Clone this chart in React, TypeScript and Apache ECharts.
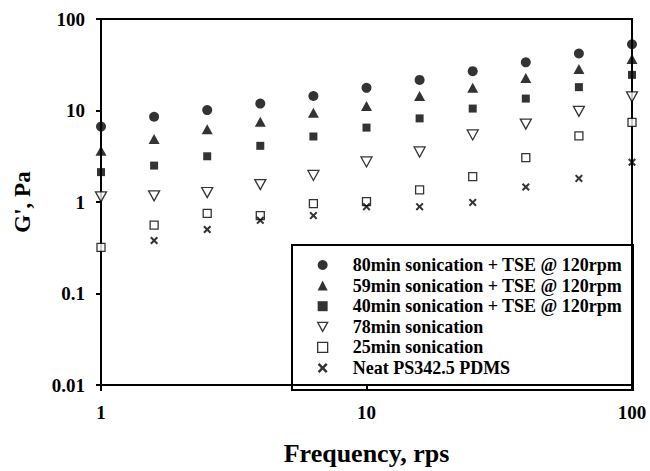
import React, { useEffect, useRef } from "react";
import * as echarts from "echarts";

// Oscillation frequency, rps
const frequency = [1, 1.585, 2.512, 3.981, 6.31, 10, 15.85, 25.12, 39.81, 63.1, 100];

// Storage modulus G', Pa
const s80TSE = [6.67, 8.55, 10.1, 11.9, 14.4, 17.7, 21.6, 26.9, 33.6, 42, 53];
const s59TSE = [3.63, 4.89, 6.23, 7.55, 9.44, 11.2, 14.4, 17.7, 22.6, 28.5, 36.5];
const s40TSE = [2.12, 2.5, 3.16, 4.11, 5.2, 6.5, 8.2, 10.5, 13.5, 18, 24.5];
const s78 = [1.14, 1.17, 1.27, 1.55, 1.95, 2.74, 3.52, 5.4, 7.1, 9.8, 14.1];
const s25 = [0.32, 0.56, 0.75, 0.71, 0.96, 1.01, 1.36, 1.89, 3.05, 5.27, 7.4];
const neat = [null, 0.38, 0.5, 0.63, 0.71, 0.89, 0.89, 0.99, 1.46, 1.81, 2.72];

const seriesNames = [
  "80min sonication + TSE @ 120rpm",
  "59min sonication + TSE @ 120rpm",
  "40min sonication + TSE @ 120rpm",
  "78min sonication",
  "25min sonication",
  "Neat PS342.5 PDMS",
];

const xTickLabels = ["1", "10", "100"];
const yTickLabels = ["0.01", "0.1", "1", "10", "100"];

const FONT = "'Liberation Serif', 'Times New Roman', serif";
const NABLA = "path://M0,0L10,0L5,9Z";
const CROSS =
  "path://M0,1.8L1.8,0L5,3.2L8.2,0L10,1.8L6.8,5L10,8.2L8.2,10L5,6.8L1.8,10L0,8.2L3.2,5Z";

const solid = { color: "#000", borderWidth: 0 };
const hollow = { color: "#fff", borderColor: "#000", borderWidth: 1.3 };

const styles = [
  { symbol: "circle", size: 10, item: solid },
  { symbol: "triangle", size: [11, 10], item: solid },
  { symbol: "rect", size: 8, item: solid },
  { symbol: NABLA, size: [11, 10], item: hollow },
  { symbol: "rect", size: 8, item: hollow },
  { symbol: CROSS, size: 8, item: solid },
];

const values = [s80TSE, s59TSE, s40TSE, s78, s25, neat];

function pickLabel(labels: string[], v: number) {
  const hit = labels.find((l) => Math.abs(Number(l) - v) < v * 1e-6);
  return hit ?? "";
}

export default function App() {
  const ref = useRef<HTMLDivElement>(null);

  useEffect(() => {
    document.body.style.margin = "0";
    if (!ref.current) return;
    const chart = echarts.init(ref.current, undefined, { renderer: "svg" });

    const series = values.map((vals, i) => ({
      name: seriesNames[i],
      type: "scatter",
      symbol: styles[i].symbol,
      symbolSize: styles[i].size,
      itemStyle: styles[i].item,
      data: frequency
        .map((f, j) => [f, vals[j]])
        .filter((p) => p[1] !== null),
    }));

    chart.setOption({
      animation: false,
      backgroundColor: "#fff",
      textStyle: { fontFamily: FONT },
      grid: {
        left: 101,
        right: 18,
        top: 19,
        bottom: 82,
        show: true,
        borderColor: "#000",
        borderWidth: 2,
      },
      xAxis: {
        type: "log",
        logBase: 10,
        min: 1,
        max: 100,
        name: "Frequency, rps",
        nameLocation: "middle",
        nameGap: 55,
        nameTextStyle: { fontFamily: FONT, fontWeight: "bold", fontSize: 26, color: "#000" },
        axisLine: { show: true, lineStyle: { color: "#000", width: 2 } },
        axisTick: { show: true, inside: false, length: 6, lineStyle: { color: "#000", width: 2 } },
        minorTick: { show: false },
        splitLine: { show: false },
        axisLabel: {
          margin: 18,
          fontFamily: FONT,
          fontWeight: "bold",
          fontSize: 19,
          color: "#000",
          formatter: (v: number) => pickLabel(xTickLabels, v),
        },
      },
      yAxis: {
        type: "log",
        logBase: 10,
        min: 0.01,
        max: 100,
        name: "G', Pa",
        nameLocation: "middle",
        nameGap: 67,
        nameTextStyle: { fontFamily: FONT, fontWeight: "bold", fontSize: 23, color: "#000" },
        axisLine: { show: true, lineStyle: { color: "#000", width: 2 } },
        axisTick: { show: true, inside: false, length: 5, lineStyle: { color: "#000", width: 2 } },
        minorTick: { show: false },
        splitLine: { show: false },
        axisLabel: {
          margin: 16,
          fontFamily: FONT,
          fontWeight: "bold",
          fontSize: 19,
          color: "#000",
          formatter: (v: number) => pickLabel(yTickLabels, v),
        },
      },
      legend: {
        orient: "vertical",
        left: 317,
        top: 256,
        padding: 0,
        itemWidth: 10,
        itemHeight: 10,
        itemGap: 2.6,
        selectedMode: false,
        data: seriesNames.map((n, i) => ({
          name: n,
          icon: styles[i].symbol,
          itemStyle: styles[i].item,
        })),
        textStyle: {
          fontFamily: FONT,
          fontWeight: "bold",
          fontSize: 18,
          lineHeight: 18,
          color: "#000",
          padding: [0, 0, 0, 20],
        },
      },
      graphic: [
        {
          type: "rect",
          left: 291,
          top: 244,
          shape: { width: 341, height: 145 },
          style: { fill: "#fff", stroke: "#000", lineWidth: 2 },
          z: -1,
          zlevel: 0,
        },
      ],
      series,
    });

    return () => chart.dispose();
  }, []);

  return <div ref={ref} style={{ width: 650, height: 471 }} />;
}
